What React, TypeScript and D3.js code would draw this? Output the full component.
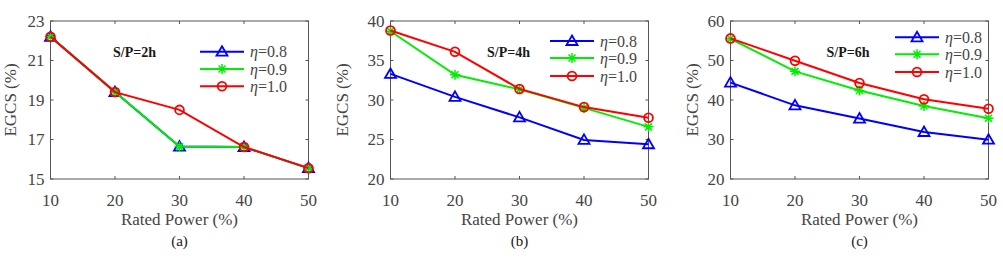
import React, { useRef, useEffect } from 'react';
import * as d3 from 'd3';

// rated power on the x axis (%)
const ratedPower = [10, 20, 30, 40, 50];
const etaLabels = ['0.8', '0.9', '1.0'];

// S/P = 2h
const sp2hEta08 = [22.2, 19.4, 16.64, 16.62, 15.55];
const sp2hEta09 = [22.2, 19.4, 16.64, 16.62, 15.55];
const sp2hEta10 = [22.2, 19.4, 18.5, 16.62, 15.55];

// S/P = 4h
const sp4hEta08 = [33.3, 30.4, 27.8, 24.95, 24.4];
const sp4hEta09 = [38.7, 33.2, 31.35, 29.0, 26.6];
const sp4hEta10 = [38.8, 36.1, 31.4, 29.1, 27.76];

// S/P = 6h
const sp6hEta08 = [44.4, 38.65, 35.3, 31.9, 29.95];
const sp6hEta09 = [55.5, 47.25, 42.4, 38.5, 35.4];
const sp6hEta10 = [55.6, 49.95, 44.3, 40.2, 37.8];

const ticks2h = [15, 17, 19, 21, 23];
const ticks4h = [20, 25, 30, 35, 40];
const ticks6h = [20, 30, 40, 50, 60];

const colors = ['#0000ff', '#00ee00', '#ff0000'];
const markers = ['triangle', 'asterisk', 'circle'];

const panels = [
  { tag: '(a)', sp: 'S/P=2h', ticks: ticks2h, series: [sp2hEta08, sp2hEta09, sp2hEta10],
    left: 50.5, spX: 62.5, legX: 149.5, legRows: [51.7, 69, 86.3], yLabelX: 10 },
  { tag: '(b)', sp: 'S/P=4h', ticks: ticks4h, series: [sp4hEta08, sp4hEta09, sp4hEta10],
    left: 390.5, spX: 96.5, legX: 159.5, legRows: [41, 58, 76], yLabelX: 342 },
  { tag: '(c)', sp: 'S/P=6h', ticks: ticks6h, series: [sp6hEta08, sp6hEta09, sp6hEta10],
    left: 730.5, spX: 96, legX: 164.5, legRows: [37.3, 54.3, 72], yLabelX: 692 },
];

const W = 1003, H = 270;
const plotW = 258, top = 21, bottom = 179;
const font = "'Liberation Serif', 'DejaVu Serif', 'Times New Roman', serif";
const textColor = '#454545';

function drawMarker(g, kind, x, y, color) {
  if (kind === 'triangle') {
    g.append('path')
      .attr('d', `M${x},${y - 5.5}L${x + 5.5},${y + 4}L${x - 5.5},${y + 4}Z`)
      .attr('fill', 'none').attr('stroke', color).attr('stroke-width', 1.8);
  } else if (kind === 'circle') {
    g.append('circle')
      .attr('cx', x).attr('cy', y).attr('r', 4.4)
      .attr('fill', 'none').attr('stroke', color).attr('stroke-width', 1.8);
  } else {
    const r = 5;
    const d = `M${x - r},${y}L${x + r},${y}M${x},${y - r}L${x},${y + r}` +
      `M${x - r * 0.7},${y - r * 0.7}L${x + r * 0.7},${y + r * 0.7}` +
      `M${x - r * 0.7},${y + r * 0.7}L${x + r * 0.7},${y - r * 0.7}`;
    g.append('path').attr('d', d).attr('stroke', color).attr('stroke-width', 1.5);
  }
}

export default function App() {
  const ref = useRef(null);

  useEffect(() => {
    const svg = d3.select(ref.current);
    svg.selectAll('*').remove();

    panels.forEach(p => {
      const x = d3.scaleLinear().domain([10, 50]).range([p.left, p.left + plotW]);
      const y = d3.scaleLinear().domain(d3.extent(p.ticks)).range([bottom, top]);
      const g = svg.append('g');

      // box and inward ticks on all four sides
      g.append('rect')
        .attr('x', p.left).attr('y', top).attr('width', plotW).attr('height', bottom - top)
        .attr('fill', 'none').attr('stroke', '#555').attr('stroke-width', 1);
      const tl = 3;
      p.ticks.forEach(t => {
        g.append('line').attr('x1', p.left).attr('x2', p.left + tl).attr('y1', y(t)).attr('y2', y(t))
          .attr('stroke', '#555');
        g.append('line').attr('x1', p.left + plotW).attr('x2', p.left + plotW - tl).attr('y1', y(t)).attr('y2', y(t))
          .attr('stroke', '#555');
        g.append('text').attr('x', p.left - 6).attr('y', y(t)).attr('dy', '0.35em')
          .attr('text-anchor', 'end').style('font-family', font).attr('font-size', 17)
          .attr('fill', textColor).text(t);
      });
      ratedPower.forEach(v => {
        g.append('line').attr('x1', x(v)).attr('x2', x(v)).attr('y1', bottom).attr('y2', bottom - tl)
          .attr('stroke', '#555');
        g.append('line').attr('x1', x(v)).attr('x2', x(v)).attr('y1', top).attr('y2', top + tl)
          .attr('stroke', '#555');
        g.append('text').attr('x', x(v)).attr('y', 206)
          .attr('text-anchor', 'middle').style('font-family', font).attr('font-size', 17)
          .attr('fill', textColor).text(v);
      });

      g.append('text').attr('x', p.left + plotW / 2).attr('y', 225)
        .attr('text-anchor', 'middle').style('font-family', font).attr('font-size', 17)
        .attr('fill', textColor).text('Rated Power (%)');
      g.append('text').attr('x', p.left + plotW / 2).attr('y', 246)
        .attr('text-anchor', 'middle').style('font-family', font).attr('font-size', 15)
        .attr('fill', '#1a1a1a').text(p.tag);
      g.append('text')
        .attr('transform', `translate(${p.yLabelX},${(top + bottom) / 2}) rotate(-90)`)
        .attr('dy', '0.35em')
        .attr('text-anchor', 'middle').style('font-family', font).attr('font-size', 17)
        .attr('fill', textColor).text('EGCS (%)');

      // series
      const line = d3.line().x((d, i) => x(ratedPower[i])).y(d => y(d));
      p.series.forEach((vals, k) => {
        g.append('path').attr('d', line(vals))
          .attr('fill', 'none').attr('stroke', colors[k]).attr('stroke-width', 2);
        vals.forEach((v, i) => drawMarker(g, markers[k], x(ratedPower[i]), y(v), colors[k]));
      });

      g.append('text').attr('x', p.left + p.spX).attr('y', 52).attr('dy', '0.35em')
        .style('font-family', font).attr('font-size', 14).attr('font-weight', 'bold')
        .attr('fill', '#1a1a1a').text(p.sp);

      // legend
      etaLabels.forEach((lab, k) => {
        const ly = p.legRows[k];
        const x0 = p.left + p.legX;
        g.append('line').attr('x1', x0).attr('x2', x0 + 44).attr('y1', ly).attr('y2', ly)
          .attr('stroke', colors[k]).attr('stroke-width', 2);
        drawMarker(g, markers[k], x0 + 22, ly, colors[k]);
        const t = g.append('text').attr('x', x0 + 50).attr('y', ly).attr('dy', '0.35em')
          .style('font-family', font).attr('font-size', 16).attr('fill', textColor);
        t.append('tspan').attr('font-style', 'italic').text('η');
        t.append('tspan').text('=' + lab);
      });
    });
  }, []);

  return (
    <svg ref={ref} width={W} height={H}
      style={{ position: 'absolute', left: 0, top: 0, background: '#fff' }} />
  );
}
